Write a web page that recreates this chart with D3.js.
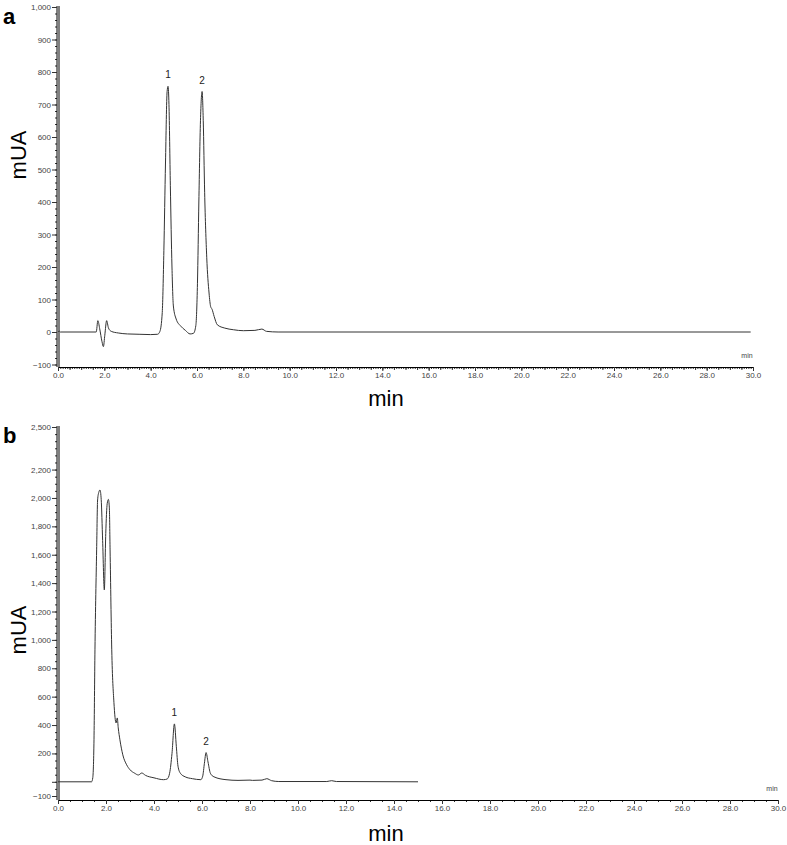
<!DOCTYPE html>
<html>
<head>
<meta charset="utf-8">
<script src="https://cdn.jsdelivr.net/npm/d3@7"></script>
<style>
  body { margin: 0; background: #fff; }
  svg { display: block; font-family: "Liberation Sans", Arial, sans-serif; }
</style>
</head>
<body>
<svg id="chart" width="787" height="845"></svg>
<script>
// panel a: standard, [time (min), mAU]
const traceA = [
  [0.0, 0], [0.05, 3], [0.1, 0], [1.65, 0], [1.72, 35], [1.8, 10], [1.9, -30], [1.96, -45],
  [2.02, -10], [2.1, 35], [2.18, 12], [2.3, 2], [2.6, -3], [3.0, -6], [3.5, -7],
  [4.0, -8], [4.3, -7], [4.4, 2], [4.5, 60], [4.57, 250], [4.64, 520], [4.71, 740],
  [4.75, 756], [4.79, 700], [4.85, 450], [4.92, 200], [4.98, 80], [5.1, 40], [5.3, 18],
  [5.5, 5], [5.7, -6], [5.85, -4], [5.95, 20], [6.02, 150], [6.08, 400], [6.15, 650],
  [6.22, 740], [6.27, 650], [6.33, 430], [6.42, 230], [6.52, 120], [6.59, 78], [6.65, 70],
  [6.74, 48], [6.88, 22], [7.2, 12], [7.57, 7], [8.0, 4], [8.5, 5], [8.8, 9], [9.0, 2],
  [9.5, 0], [29.9, 0]
];
// panel b: sample extract
const traceB = [
  [0.0, 0], [1.4, 0], [1.45, 30], [1.5, 300], [1.54, 930], [1.61, 1634], [1.65, 1986],
  [1.7, 2040], [1.75, 2056], [1.8, 1990], [1.86, 1700], [1.93, 1352], [1.99, 1750],
  [2.05, 1960], [2.1, 1990], [2.14, 1930], [2.17, 1634], [2.24, 930], [2.33, 560],
  [2.42, 415], [2.47, 450], [2.51, 380], [2.58, 296], [2.7, 190], [2.86, 120],
  [3.0, 85], [3.2, 60], [3.35, 48], [3.49, 62], [3.65, 45], [4.0, 28], [4.4, 15],
  [4.55, 20], [4.65, 60], [4.75, 200], [4.85, 408], [4.93, 250], [5.0, 110], [5.1, 60],
  [5.3, 35], [5.6, 22], [5.95, 15], [6.03, 40], [6.1, 130], [6.17, 206], [6.25, 140],
  [6.35, 60], [6.5, 35], [7.0, 15], [7.5, 10], [8.0, 12], [8.1, 10], [8.5, 12],
  [8.7, 22], [8.9, 8], [9.2, 2], [11.2, 2], [11.4, 8], [11.6, 2], [15.0, 0]
];

const xTicks = d3.range(0, 30.01, 2);
const yTicksA = [-100, 0, 100, 200, 300, 400, 500, 600, 700, 800, 900, 1000];
const yTicksB = [-100, 200, 400, 600, 800, 1000, 1200, 1400, 1600, 1800, 2000, 2200, 2500];
const peaksA = [{ label: "1", t: 4.75, v: 756 }, { label: "2", t: 6.22, v: 740 }];
const peaksB = [{ label: "1", t: 4.85, v: 408 }, { label: "2", t: 6.17, v: 206 }];

const svg = d3.select("#chart");
const fmtY = d3.format(",");

function panel(o) {
  const g = svg.append("g");
  const x = d3.scaleLinear().domain([0, 30]).range([58, o.xEnd]);
  const y = d3.scaleLinear().domain(o.yDomain).range([o.yBottom, o.yTop]);

  // x axis: minor, then major ticks
  g.append("g").attr("transform", `translate(0,${o.axisY})`)
    .call(d3.axisBottom(x).tickValues(d3.range(0, 30.001, o.xMinor)).tickSize(2).tickFormat(""))
    .call(a => a.select(".domain").remove());
  if (o.xMid) {
    g.append("g").attr("transform", `translate(0,${o.axisY})`)
      .call(d3.axisBottom(x).tickValues(d3.range(0, 30.001, o.xMid)).tickSize(3).tickFormat(""))
      .call(a => a.select(".domain").remove());
  }
  g.append("g").attr("transform", `translate(0,${o.axisY})`)
    .call(d3.axisBottom(x).tickValues(xTicks).tickSize(4).tickSizeOuter(0).tickPadding(1)
      .tickFormat(d3.format(".1f")))
    .call(a => a.selectAll("text").attr("font-size", 8).attr("fill", "#444"));

  // y axis
  g.append("g").attr("transform", "translate(57,0)")
    .call(d3.axisLeft(y).tickValues(d3.range(o.yDomain[0], o.yDomain[1] + 0.1, o.yMinor))
      .tickSize(2).tickFormat(""))
    .call(a => a.select(".domain").remove());
  g.append("g").attr("transform", "translate(57,0)")
    .call(d3.axisLeft(y).tickValues(o.yTicks).tickSize(5).tickSizeOuter(0).tickPadding(1)
      .tickFormat(fmtY))
    .call(a => a.select(".domain").attr("d", `M0,${o.yTop - 1}V${o.axisY}`))
    .call(a => a.selectAll("text").attr("font-size", 8).attr("fill", "#444"));
  g.append("line").attr("x1", 59).attr("x2", 59)
    .attr("y1", o.yTop - 1).attr("y2", o.axisY).attr("stroke", "#000");
  g.selectAll(".tick line").attr("stroke", "#333");

  // trace
  g.append("path").datum(o.data)
    .attr("fill", "none").attr("stroke", "#333").attr("stroke-width", 1)
    .attr("d", d3.line().x(d => x(d[0])).y(d => y(d[1])).curve(d3.curveMonotoneX));

  g.selectAll(".pk").data(o.peaks).join("text")
    .attr("x", d => x(d.t)).attr("y", d => y(d.v) - 8)
    .attr("text-anchor", "middle").attr("font-size", 10).attr("fill", "#222")
    .text(d => d.label);

  g.append("text").attr("x", o.xEnd - 6).attr("y", o.axisY - 9)
    .attr("text-anchor", "middle").attr("font-size", 7).attr("fill", "#444").text("min");
  g.append("text").attr("x", 386).attr("y", o.minY)
    .attr("text-anchor", "middle").attr("font-size", 22).attr("fill", "#000").text("min");
  g.append("text").attr("transform", `translate(26,${o.mUAY}) rotate(-90)`)
    .attr("text-anchor", "middle").attr("font-size", 22).attr("fill", "#000").text("mUA");
  g.append("text").attr("x", 3).attr("y", o.letterY)
    .attr("font-size", 22).attr("font-weight", "bold").attr("fill", "#000").text(o.letter);
}

panel({
  data: traceA, peaks: peaksA, letter: "a", letterY: 24,
  xEnd: 753, yDomain: [-100, 1000], yTop: 7, yBottom: 364.5, axisY: 367,
  yTicks: yTicksA, yMinor: 20, xMinor: 0.1, xMid: 0.5, minY: 406, mUAY: 155
});
panel({
  data: traceB, peaks: peaksB, letter: "b", letterY: 443,
  xEnd: 778, yDomain: [-100, 2500], yTop: 427, yBottom: 796, axisY: 800,
  yTicks: yTicksB.concat([0]), yMinor: 50, xMinor: 0.5, xMid: null, minY: 841, mUAY: 630
});
// unlabelled major tick at 0 in panel b
svg.selectAll("g .tick text").filter(function () { return this.textContent === "0" && this.getBoundingClientRect().top > 420; }).remove();
</script>
</body>
</html>
